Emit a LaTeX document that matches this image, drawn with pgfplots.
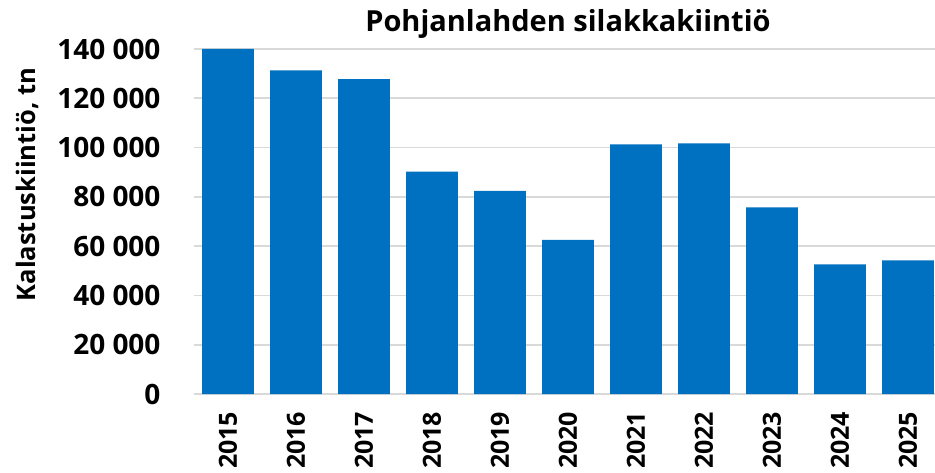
\documentclass[border=0pt]{standalone}
\usepackage{fontspec}
\setmainfont{Open Sans}
\usepackage{pgfplots}
\pgfplotsset{compat=1.18}
\definecolor{barblue}{HTML}{0070C0}
\definecolor{gridgray}{HTML}{D9D9D9}
\begin{document}
\begin{tikzpicture}[x=1pt,y=1pt]
\useasboundingbox (0,0) rectangle (935,472);
\begin{axis}[
  at={(194pt,78pt)}, anchor=south west,
  scale only axis, width=748pt, height=345pt,
  xmin=-0.5, xmax=10.5, ymin=0, ymax=140000,
  scaled y ticks=false,
  axis line style={draw=none},
  major tick style={draw=none},
  ymajorgrids, grid style={gridgray, line width=1.6pt},
  ytick={0,20000,...,140000},
  yticklabels={0,20 000,40 000,60 000,80 000,100 000,120 000,140 000},
  yticklabel style={font=\fontsize{28}{32}\selectfont\bfseries, xshift=-30pt},
  xtick={0,...,10},
  xticklabels={2015,2016,2017,2018,2019,2020,2021,2022,2023,2024,2025},
  xticklabel style={font=\fontsize{25}{30}\selectfont\bfseries, rotate=90, anchor=east},
  xticklabel shift=10pt,
  ylabel={Kalastuskiintiö, tn},
  ylabel style={font=\fontsize{25.5}{29}\selectfont\bfseries, at={(axis description cs:-0.2233,0.607)}, anchor=center},
  title={Pohjanlahden silakkakiintiö},
  title style={font=\fontsize{29}{32}\selectfont\bfseries, at={(axis description cs:0.5,1)}, anchor=base, yshift=11pt},
  ybar, bar width=0.76,
  clip=false,
]
\addplot[fill=barblue, draw=none] coordinates {
(0,140000) (1,131300) (2,127800) (3,90200) (4,82400) (5,62500)
(6,101300) (7,101700) (8,75700) (9,52600) (10,54200)};
\end{axis}
\end{tikzpicture}
\end{document}
